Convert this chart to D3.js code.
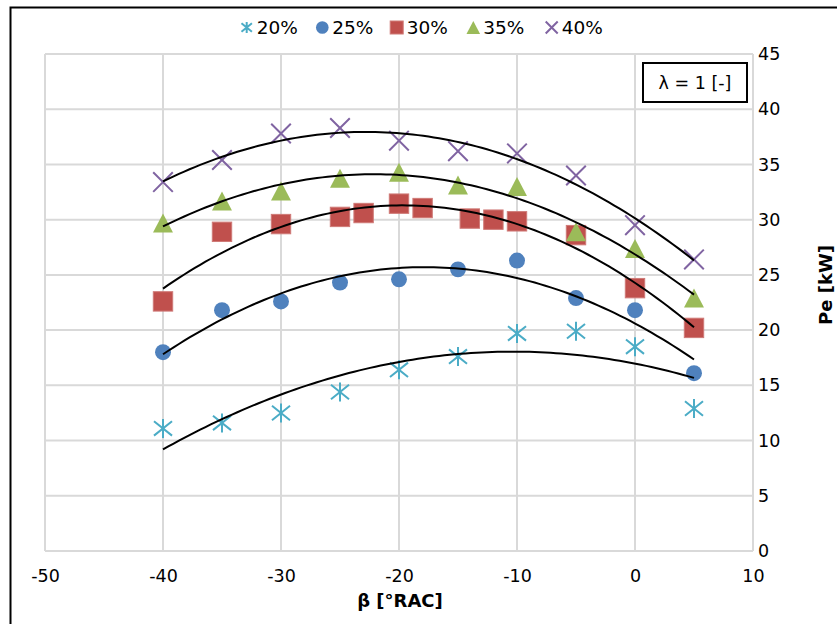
<!DOCTYPE html>
<html>
<head>
<meta charset="utf-8">
<script src="https://cdn.jsdelivr.net/npm/d3@7"></script>
<style>
  html, body { margin: 0; padding: 0; background: #fff; }
  svg { display: block; }
  text { font-family: "DejaVu Sans", Verdana, sans-serif; }
</style>
</head>
<body>
<svg id="chart" width="837" height="624"></svg>
<script>
// ---- data ----
const xAngles = [-40, -35, -30, -25, -20, -15, -10, -5, 0, 5];
const xAngles30 = [-40, -35, -30, -25, -23, -20, -18, -14, -12, -10, -5, 0, 5];
const pe20 = [11.1, 11.6, 12.5, 14.4, 16.4, 17.6, 19.7, 19.9, 18.5, 12.9];
const pe25 = [18.0, 21.8, 22.6, 24.3, 24.6, 25.5, 26.3, 22.9, 21.8, 16.1];
const pe30 = [22.6, 28.9, 29.6, 30.25, 30.6, 31.45, 31.05, 30.1, 30.0, 29.85, 28.6, 23.8, 20.2];
const pe35 = [29.7, 31.7, 32.6, 33.75, 34.3, 33.15, 33.0, 28.9, 27.4, 22.9];
const pe40 = [33.4, 35.4, 37.8, 38.3, 37.15, 36.2, 36.0, 34.0, 29.5, 26.4];
const seriesNames = ["20%", "25%", "30%", "35%", "40%"];
const seriesColors = ["#4BACC6", "#4F81BD", "#C0504D", "#9BBB59", "#8064A2"];
const seriesShapes = ["star", "circle", "square", "triangle", "cross"];
const xTicks = [-50, -40, -30, -20, -10, 0, 10];
const yTicks = [0, 5, 10, 15, 20, 25, 30, 35, 40, 45];
const xTitle = "β [°RAC]";
const yTitle = "Pe [kW]";
const boxLabel = "λ = 1 [-]";

const series = [
  {name: seriesNames[0], xs: xAngles, ys: pe20},
  {name: seriesNames[1], xs: xAngles, ys: pe25},
  {name: seriesNames[2], xs: xAngles30, ys: pe30},
  {name: seriesNames[3], xs: xAngles, ys: pe35},
  {name: seriesNames[4], xs: xAngles, ys: pe40}
].map((s, i) => ({...s, color: seriesColors[i], shape: seriesShapes[i],
  pts: s.xs.map((x, j) => ({x, y: s.ys[j]}))}));

// ---- layout ----
const svg = d3.select("#chart");
const plot = {left: 45, right: 753, top: 54, bottom: 551};
const x = d3.scaleLinear().domain([-50, 10]).range([plot.left, plot.right]);
const y = d3.scaleLinear().domain([0, 45]).range([plot.bottom, plot.top]);

// outer frame (cropped at right / bottom)
svg.append("path").attr("d", "M10.5,624 V7.5 H837")
  .attr("fill", "none").attr("stroke", "#000").attr("stroke-width", 2);

// gridlines
const grid = svg.append("g");
grid.selectAll(".hg").data(yTicks).join("line")
  .attr("x1", plot.left).attr("x2", plot.right)
  .attr("y1", d => y(d)).attr("y2", d => y(d))
  .attr("stroke", "#D9D9D9").attr("stroke-width", 2);
grid.selectAll(".vg").data(xTicks).join("line")
  .attr("x1", d => x(d)).attr("x2", d => x(d))
  .attr("y1", plot.top).attr("y2", plot.bottom)
  .attr("stroke", "#D9D9D9").attr("stroke-width", 2);

// axes (labels only, via d3 axes)
const fmt = d => String(d);
const xAxis = svg.append("g").attr("transform", `translate(0,${plot.bottom})`)
  .call(d3.axisBottom(x).tickValues(xTicks).tickSize(0).tickPadding(19).tickFormat(fmt));
xAxis.select(".domain").remove();
xAxis.selectAll("text").attr("font-size", 17.5).attr("fill", "#000")
  .attr("font-family", "DejaVu Sans, Verdana, sans-serif");

const yAxis = svg.append("g").attr("transform", `translate(${plot.right},0)`)
  .call(d3.axisRight(y).tickValues(yTicks).tickSize(0).tickPadding(5).tickFormat(fmt));
yAxis.select(".domain").remove();
yAxis.selectAll("text").attr("font-size", 17.5).attr("fill", "#000")
  .attr("font-family", "DejaVu Sans, Verdana, sans-serif");

// axis titles
svg.append("text").attr("x", 400).attr("y", 607).attr("text-anchor", "middle")
  .attr("font-size", 18).attr("font-weight", "bold").text(xTitle);
svg.append("text").attr("transform", "translate(832,285) rotate(-90)")
  .attr("text-anchor", "middle").attr("font-size", 18).attr("font-weight", "bold").text(yTitle);

// marker drawing
function drawMarker(g, shape, color, s) {
  // s = half size
  if (shape === "circle") {
    g.append("circle").attr("r", s * 0.84).attr("fill", color);
  } else if (shape === "square") {
    g.append("rect").attr("x", -s).attr("y", -s).attr("width", 2 * s).attr("height", 2 * s)
      .attr("fill", color).attr("stroke", "#cf7a77").attr("stroke-width", 1);
  } else if (shape === "triangle") {
    g.append("path").attr("d", `M0,${-s} L${s * 1.05},${s} L${-s * 1.05},${s} Z`).attr("fill", color);
  } else if (shape === "cross") {
    g.append("path").attr("d", `M${-s},${-s} L${s},${s} M${-s},${s} L${s},${-s}`)
      .attr("stroke", color).attr("stroke-width", 2).attr("fill", "none");
  } else if (shape === "star") {
    const a = s * 0.95;
    g.append("path").attr("d", `M${-a},${-a * 0.8} L${a},${a * 0.8} M${-a},${a * 0.8} L${a},${-a * 0.8} M0,${-s} L0,${s}`)
      .attr("stroke", color).attr("stroke-width", 2).attr("fill", "none");
  }
}

// markers
const markerHalf = {star: 9.5, circle: 9.5, square: 9.7, triangle: 9.5, cross: 9.8};
series.forEach(s => {
  const g = svg.append("g");
  s.pts.forEach(p => {
    const m = g.append("g").attr("transform", `translate(${x(p.x)},${y(p.y)})`);
    drawMarker(m, s.shape, s.color, markerHalf[s.shape]);
  });
});

// polynomial (order 2) least-squares trendline
function quadFit(pts) {
  const n = pts.length;
  let sx = 0, sx2 = 0, sx3 = 0, sx4 = 0, sy = 0, sxy = 0, sx2y = 0;
  pts.forEach(p => {
    const a = p.x, b = p.y;
    sx += a; sx2 += a * a; sx3 += a ** 3; sx4 += a ** 4;
    sy += b; sxy += a * b; sx2y += a * a * b;
  });
  const M = [[n, sx, sx2, sy], [sx, sx2, sx3, sxy], [sx2, sx3, sx4, sx2y]];
  for (let i = 0; i < 3; i++) {
    let piv = i;
    for (let k = i + 1; k < 3; k++) if (Math.abs(M[k][i]) > Math.abs(M[piv][i])) piv = k;
    [M[i], M[piv]] = [M[piv], M[i]];
    for (let k = 0; k < 3; k++) {
      if (k === i) continue;
      const f = M[k][i] / M[i][i];
      for (let j = i; j < 4; j++) M[k][j] -= f * M[i][j];
    }
  }
  const c = M.map((r, i) => r[3] / r[i]);
  return t => c[0] + c[1] * t + c[2] * t * t;
}
const line = d3.line().x(d => x(d.x)).y(d => y(d.y)).curve(d3.curveLinear);
series.forEach(s => {
  const f = quadFit(s.pts);
  const [x0, x1] = d3.extent(s.xs);
  const samples = d3.range(0, 101).map(i => {
    const t = x0 + (x1 - x0) * i / 100;
    return {x: t, y: f(t)};
  });
  svg.append("path").attr("d", line(samples)).attr("fill", "none")
    .attr("stroke", "#000").attr("stroke-width", 2);
});

// legend
const legendX = [246.7, 322.3, 396.7, 473.3, 551.7];
const legend = svg.append("g");
series.forEach((s, i) => {
  const g = legend.append("g").attr("transform", `translate(${legendX[i]},27.5)`);
  const half = {star: 5.5, circle: 7.5, square: 6.5, triangle: 6.5, cross: 6}[s.shape];
  drawMarker(g, s.shape, s.color, half);
  g.append("text").attr("x", 10).attr("y", 6.8).attr("font-size", 18.5).attr("fill", "#000").text(s.name);
});

// annotation box
const box = svg.append("g");
box.append("rect").attr("x", 643).attr("y", 63).attr("width", 104).attr("height", 39)
  .attr("fill", "#fff").attr("stroke", "#000").attr("stroke-width", 2);
box.append("text").attr("x", 695).attr("y", 89).attr("text-anchor", "middle")
  .attr("font-size", 17.5).attr("fill", "#000").text(boxLabel);
</script>
</body>
</html>
